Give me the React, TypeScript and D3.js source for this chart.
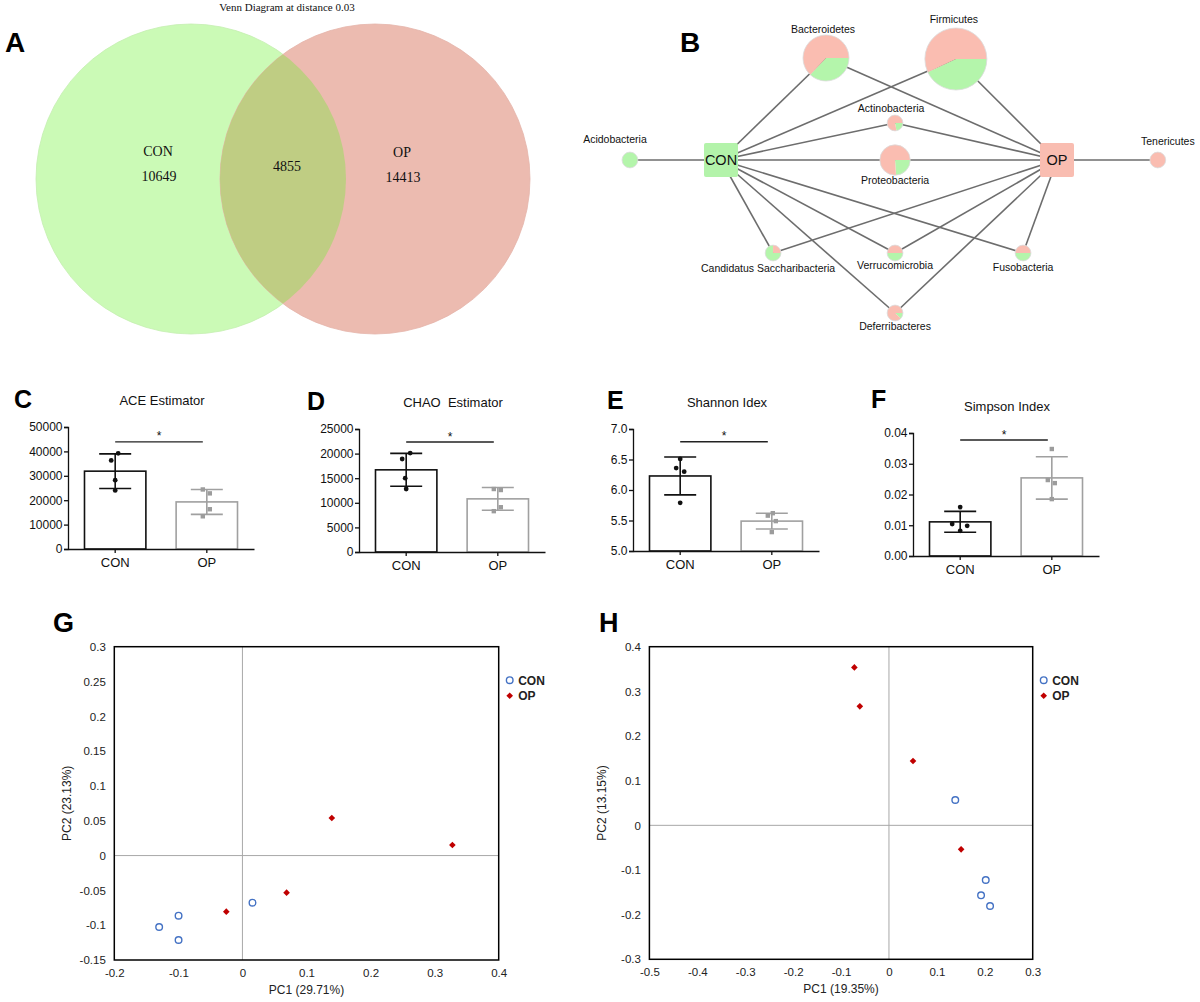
import React, { useEffect, useRef } from 'react';
import * as d3 from 'd3';

// ---------- A: Venn ----------
const vennTitle = 'Venn Diagram at distance 0.03';
const vennGroups = ['CON', 'OP'];
const vennOnly = [10649, 14413];
const vennShared = 4855;

// ---------- B: phylum network ----------
const phyla = [
  'Acidobacteria',
  'Bacteroidetes',
  'Firmicutes',
  'Actinobacteria',
  'Proteobacteria',
  'Tenericutes',
  'Candidatus Saccharibacteria',
  'Verrucomicrobia',
  'Fusobacteria',
  'Deferribacteres'
];
// relative node size (abundance) and share of CON in each pie
const phylaAbundance = [6.5, 55, 100, 6.5, 24, 6.5, 6.5, 6.5, 6.5, 6.5];
const phylaConShare = [1, 0.37, 0.43, 0.22, 0.24, 0, 0.75, 0.5, 0.5, 0.12];

// ---------- C-F: alpha diversity ----------
const groups = ['CON', 'OP'];

const aceMean = [31900, 19300];
const aceSd = [7100, 5100];
const aceCon = [39200, 36300, 28200, 24000];
const aceOp = [24400, 22800, 16300, 13400];
const aceTicks = [0, 10000, 20000, 30000, 40000, 50000];

const chaoMean = [16700, 10800];
const chaoSd = [3350, 2300];
const chaoCon = [20100, 18900, 15000, 12800];
const chaoOp = [12800, 12600, 9100, 8300];
const chaoTicks = [0, 5000, 10000, 15000, 20000, 25000];

const shannonMean = [6.23, 5.49];
const shannonSd = [0.31, 0.13];
const shannonCon = [6.51, 6.36, 6.3, 5.79];
const shannonOp = [5.62, 5.58, 5.49, 5.31];
const shannonTicks = [5.0, 5.5, 6.0, 6.5, 7.0];

const simpsonMean = [0.0111, 0.0254];
const simpsonSd = [0.0034, 0.0069];
const simpsonCon = [0.0159, 0.0104, 0.0098, 0.0082];
const simpsonOp = [0.0348, 0.0247, 0.0237, 0.0185];
const simpsonTicks = [0, 0.01, 0.02, 0.03, 0.04];

// ---------- G, H: PCoA ----------
const gConX = [-0.13, -0.0997, -0.0997, 0.0157];
const gConY = [-0.1026, -0.0863, -0.1213, -0.0677];
const gOpX = [-0.0252, 0.0689, 0.1395, 0.3277];
const gOpY = [-0.0806, -0.0533, 0.0539, 0.0152];
const gXTicks = [-0.2, -0.1, 0, 0.1, 0.2, 0.3, 0.4];
const gYTicks = [-0.15, -0.1, -0.05, 0, 0.05, 0.1, 0.15, 0.2, 0.25, 0.3];

const hConX = [0.1384, 0.202, 0.1922, 0.211];
const hConY = [0.0567, -0.1224, -0.1567, -0.1806];
const hOpX = [-0.0722, -0.0608, 0.0502, 0.1506];
const hOpY = [0.3537, 0.2664, 0.144, -0.0537];
const hXTicks = [-0.5, -0.4, -0.3, -0.2, -0.1, 0, 0.1, 0.2, 0.3];
const hYTicks = [-0.3, -0.2, -0.1, 0, 0.1, 0.2, 0.3, 0.4];

const SANS = '"Liberation Sans", Arial, sans-serif';
const SERIF = '"Liberation Serif", "Times New Roman", serif';
const GREEN = '#b4f5ab';
const PINK = '#fabdb1';

type Sel = d3.Selection<SVGSVGElement, unknown, null, undefined>;

const letter = (svg: Sel, t: string, x: number, y: number, size = 27) => {
  svg
    .append('text')
    .attr('x', x)
    .attr('y', y)
    .attr('font-family', SANS)
    .attr('font-weight', 'bold')
    .attr('font-size', size)
    .attr('fill', '#000')
    .text(t);
};

const drawVenn = (svg: Sel) => {
  const cx = d3.scaleOrdinal<string, number>().domain(vennGroups).range([191, 375]);
  const cy = 179;
  const r = 155;
  const fills = ['#cbfab6', '#ecbbb0'];

  svg
    .append('defs')
    .append('clipPath')
    .attr('id', 'venn-op')
    .append('circle')
    .attr('cx', cx('OP'))
    .attr('cy', cy)
    .attr('r', r);

  const g = svg.append('g');
  g.selectAll('circle.set')
    .data(vennGroups)
    .join('circle')
    .attr('class', 'set')
    .attr('cx', (d) => cx(d))
    .attr('cy', cy)
    .attr('r', r)
    .attr('fill', (_, i) => fills[i])
    .attr('stroke', (_, i) => (i === 0 ? '#c4efb0' : '#e4b4a9'))
    .attr('stroke-width', 0.8);
  g.append('circle')
    .attr('cx', cx('CON'))
    .attr('cy', cy)
    .attr('r', r)
    .attr('clip-path', 'url(#venn-op)')
    .attr('fill', '#bfcd83');

  const txt = (t: string, x: number, y: number, size = 14) =>
    g.append('text')
      .attr('x', x)
      .attr('y', y)
      .attr('text-anchor', 'middle')
      .attr('font-family', SERIF)
      .attr('font-size', size)
      .attr('fill', '#111')
      .text(t);

  txt(vennTitle, 287, 11, 11);
  txt(vennGroups[0], cx('CON') - 33, 156);
  txt(String(vennOnly[0]), cx('CON') - 32, 181);
  txt(String(vennShared), (cx('CON') + cx('OP')) / 2 + 4, 171);
  txt(vennGroups[1], cx('OP') + 27, 157);
  txt(String(vennOnly[1]), cx('OP') + 28, 182);

  letter(svg, 'A', 5, 52, 28);
};

// layout of the network (units: CON = 0, OP = 1 horizontally)
const netLayout: Record<string, { u: number; v: number; dx: number; dy: number }> = {
  Acidobacteria: { u: -0.271, v: 0, dx: -15, dy: -17 },
  Bacteroidetes: { u: 0.3125, v: -1.02, dx: -3, dy: -25 },
  Firmicutes: { u: 0.699, v: -1.01, dx: -2, dy: -36 },
  Actinobacteria: { u: 0.518, v: -0.37, dx: -4, dy: -11 },
  Proteobacteria: { u: 0.518, v: 0, dx: 0, dy: 24 },
  Tenericutes: { u: 1.3, v: 0, dx: 10, dy: -15 },
  'Candidatus Saccharibacteria': { u: 0.155, v: 0.93, dx: -5, dy: 19 },
  Verrucomicrobia: { u: 0.518, v: 0.93, dx: 0, dy: 16 },
  Fusobacteria: { u: 0.899, v: 0.93, dx: 0, dy: 18 },
  Deferribacteres: { u: 0.518, v: 1.53, dx: 0, dy: 17 }
};

const drawNetwork = (svg: Sel) => {
  const x = d3.scaleLinear().domain([0, 1]).range([721, 1057]);
  const y = d3.scaleLinear().domain([0, 1]).range([160, 260]);
  const rad = d3.scaleSqrt().domain([0, 100]).range([0, 31]);
  const hubs = [
    { name: 'CON', u: 0, fill: '#b3f3aa' },
    { name: 'OP', u: 1, fill: '#f9bdb1' }
  ];

  const nodes = phyla.map((name, i) => ({
    name,
    share: phylaConShare[i],
    r: rad(phylaAbundance[i]),
    x: x(netLayout[name].u),
    y: y(netLayout[name].v),
    dx: netLayout[name].dx,
    dy: netLayout[name].dy
  }));

  const links: { x1: number; y1: number; x2: number; y2: number }[] = [];
  nodes.forEach((n) => {
    if (n.share > 0) links.push({ x1: x(0), y1: y(0), x2: n.x, y2: n.y });
    if (n.share < 1) links.push({ x1: x(1), y1: y(0), x2: n.x, y2: n.y });
  });

  const g = svg.append('g');
  g.selectAll('line')
    .data(links)
    .join('line')
    .attr('x1', (d) => d.x1)
    .attr('y1', (d) => d.y1)
    .attr('x2', (d) => d.x2)
    .attr('y2', (d) => d.y2)
    .attr('stroke', '#6d6d6d')
    .attr('stroke-width', 1.6);

  const pie = d3
    .pie<number>()
    .sort(null)
    .startAngle(Math.PI / 2)
    .endAngle(Math.PI / 2 + 2 * Math.PI);

  const ng = g
    .selectAll('g.node')
    .data(nodes)
    .join('g')
    .attr('class', 'node')
    .attr('transform', (d) => `translate(${d.x},${d.y})`);

  ng.each(function (d) {
    const arc = d3.arc<d3.PieArcDatum<number>>().innerRadius(0).outerRadius(d.r);
    d3.select(this)
      .selectAll('path')
      .data(pie([d.share, 1 - d.share]))
      .join('path')
      .attr('d', arc)
      .attr('fill', (_, i) => (i === 0 ? GREEN : PINK));
    d3.select(this)
      .append('circle')
      .attr('r', d.r)
      .attr('fill', 'none')
      .attr('stroke', '#dcdcdc')
      .attr('stroke-width', 0.8);
    d3.select(this)
      .append('text')
      .attr('x', d.dx)
      .attr('y', d.dy)
      .attr('text-anchor', 'middle')
      .attr('font-family', SANS)
      .attr('font-size', 10.5)
      .attr('fill', '#111')
      .text(d.name);
  });

  const hg = g
    .selectAll('g.hub')
    .data(hubs)
    .join('g')
    .attr('class', 'hub')
    .attr('transform', (d) => `translate(${x(d.u)},${y(0)})`);
  hg.append('rect')
    .attr('x', -17)
    .attr('y', -17)
    .attr('width', 34)
    .attr('height', 34)
    .attr('rx', 2)
    .attr('fill', (d) => d.fill);
  hg.append('text')
    .attr('text-anchor', 'middle')
    .attr('dy', '0.36em')
    .attr('font-family', SANS)
    .attr('font-size', 14.5)
    .attr('fill', '#111')
    .text((d) => d.name);

  letter(svg, 'B', 680, 52, 28);
};

type BarPanel = {
  letter: string;
  title: string;
  mean: number[];
  sd: number[];
  points: number[][];
  domain: [number, number];
  ticks: number[];
  sig: number;
  format: (n: number) => string;
  axisX: number;
  top: number;
  bottom: number;
  letterX: number;
  letterY: number;
  jitter: number[][];
};

const drawBars = (svg: Sel, p: BarPanel) => {
  const x = d3
    .scaleBand()
    .domain(groups)
    .range([p.axisX, p.axisX + 186])
    .paddingInner(0.33)
    .paddingOuter(0.18);
  const y = d3.scaleLinear().domain(p.domain).range([p.bottom, p.top]);
  const colors = ['#111111', '#a0a0a0'];
  const mid = (i: number) => (x(groups[i]) ?? 0) + x.bandwidth() / 2;
  const g = svg.append('g');

  g.selectAll('rect.bar')
    .data(p.mean)
    .join('rect')
    .attr('class', 'bar')
    .attr('x', (_, i) => x(groups[i]) ?? 0)
    .attr('y', (d) => y(d))
    .attr('width', x.bandwidth())
    .attr('height', (d) => p.bottom - y(d))
    .attr('fill', '#fff')
    .attr('stroke', (_, i) => colors[i])
    .attr('stroke-width', 1.6);

  // error bars (mean +- SD)
  p.mean.forEach((m, i) => {
    const c = mid(i);
    const hi = y(m + p.sd[i]);
    const lo = y(m - p.sd[i]);
    const eg = g.append('g').attr('stroke', colors[i]).attr('stroke-width', 1.6);
    eg.append('line').attr('x1', c).attr('x2', c).attr('y1', hi).attr('y2', lo);
    eg.append('line').attr('x1', c - 16).attr('x2', c + 16).attr('y1', hi).attr('y2', hi);
    eg.append('line').attr('x1', c - 16).attr('x2', c + 16).attr('y1', lo).attr('y2', lo);
  });

  // individual samples
  g.selectAll('circle.pt')
    .data(p.points[0])
    .join('circle')
    .attr('class', 'pt')
    .attr('cx', (_, j) => mid(0) + p.jitter[0][j])
    .attr('cy', (d) => y(d))
    .attr('r', 2.4)
    .attr('fill', '#111');
  g.selectAll('rect.pt')
    .data(p.points[1])
    .join('rect')
    .attr('class', 'pt')
    .attr('x', (_, j) => mid(1) + p.jitter[1][j] - 2.2)
    .attr('y', (d) => y(d) - 2.2)
    .attr('width', 4.4)
    .attr('height', 4.4)
    .attr('fill', '#9c9c9c');

  const ya = g
    .append('g')
    .attr('transform', `translate(${p.axisX},0)`)
    .call(d3.axisLeft(y).tickValues(p.ticks).tickSize(4).tickPadding(1.5).tickFormat((d) => p.format(+d)));
  const xa = g
    .append('g')
    .attr('transform', `translate(0,${p.bottom})`)
    .call(d3.axisBottom(x).tickSize(4).tickSizeOuter(0).tickPadding(5));
  [ya, xa].forEach((a) => {
    a.attr('font-family', SANS);
    a.selectAll('path, line').attr('stroke', '#111').attr('stroke-width', 1.3);
    a.selectAll('text').attr('fill', '#111');
  });
  ya.selectAll('text').attr('font-size', 12);
  xa.selectAll('text').attr('font-size', 13);

  // significance
  const sy = y(p.sig);
  g.append('line')
    .attr('x1', mid(0))
    .attr('x2', mid(1) - 4)
    .attr('y1', sy)
    .attr('y2', sy)
    .attr('stroke', '#222')
    .attr('stroke-width', 1.4);
  g.append('text')
    .attr('x', (mid(0) + mid(1)) / 2 - 2)
    .attr('y', sy - 1.5)
    .attr('text-anchor', 'middle')
    .attr('font-family', SANS)
    .attr('font-size', 12)
    .attr('fill', '#111')
    .text('*');

  g.append('text')
    .attr('x', p.axisX + 94)
    .attr('y', p.top - 22)
    .attr('text-anchor', 'middle')
    .attr('font-family', SANS)
    .attr('font-size', 13)
    .attr('fill', '#111')
    .style('white-space', 'pre')
    .text(p.title);

  letter(svg, p.letter, p.letterX, p.letterY, 25);
};

type PcoaPanel = {
  letter: string;
  letterX: number;
  letterY: number;
  box: [number, number, number, number];
  xTicks: number[];
  yTicks: number[];
  xTitle: string;
  yTitle: string;
  con: [number[], number[]];
  op: [number[], number[]];
};

const drawPcoa = (svg: Sel, p: PcoaPanel) => {
  const [left, right, top, bottom] = p.box;
  const x = d3
    .scaleLinear()
    .domain([p.xTicks[0], p.xTicks[p.xTicks.length - 1]])
    .range([left, right]);
  const y = d3
    .scaleLinear()
    .domain([p.yTicks[0], p.yTicks[p.yTicks.length - 1]])
    .range([bottom, top]);
  const g = svg.append('g');

  g.append('line')
    .attr('x1', x(0))
    .attr('x2', x(0))
    .attr('y1', top)
    .attr('y2', bottom)
    .attr('stroke', '#a8a8a8')
    .attr('stroke-width', 1);
  g.append('line')
    .attr('x1', left)
    .attr('x2', right)
    .attr('y1', y(0))
    .attr('y2', y(0))
    .attr('stroke', '#a8a8a8')
    .attr('stroke-width', 1);
  g.append('rect')
    .attr('x', left)
    .attr('y', top)
    .attr('width', right - left)
    .attr('height', bottom - top)
    .attr('fill', 'none')
    .attr('stroke', '#000')
    .attr('stroke-width', 1.5);

  const fmt = (d: d3.NumberValue) => String(+(+d).toFixed(2));
  const ya = g
    .append('g')
    .attr('transform', `translate(${left},0)`)
    .call(d3.axisLeft(y).tickValues(p.yTicks).tickSize(0).tickPadding(8.5).tickFormat(fmt));
  const xa = g
    .append('g')
    .attr('transform', `translate(0,${bottom})`)
    .call(d3.axisBottom(x).tickValues(p.xTicks).tickSize(0).tickPadding(8.5).tickFormat(fmt));
  [ya, xa].forEach((a) => {
    a.select('.domain').remove();
    a.attr('font-family', SANS).attr('font-size', 11.5);
    a.selectAll('text').attr('fill', '#222');
  });

  const diamond = d3.symbol().type(d3.symbolSquare).size(22)();
  g.selectAll('circle.con')
    .data(p.con[0])
    .join('circle')
    .attr('class', 'con')
    .attr('cx', (d) => x(d))
    .attr('cy', (_, i) => y(p.con[1][i]))
    .attr('r', 3.3)
    .attr('fill', '#fff')
    .attr('stroke', '#4472c4')
    .attr('stroke-width', 1.4);
  g.selectAll('path.op')
    .data(p.op[0])
    .join('path')
    .attr('class', 'op')
    .attr('d', diamond)
    .attr('transform', (d, i) => `translate(${x(d)},${y(p.op[1][i])}) rotate(45)`)
    .attr('fill', '#c00000');

  // legend
  const lx = right + 11;
  const lg = g.append('g').attr('font-family', SANS).attr('font-size', 12).attr('font-weight', 'bold');
  lg.append('circle')
    .attr('cx', lx)
    .attr('cy', top + 33.5)
    .attr('r', 3.3)
    .attr('fill', '#fff')
    .attr('stroke', '#4472c4')
    .attr('stroke-width', 1.4);
  lg.append('path').attr('d', diamond).attr('transform', `translate(${lx},${top + 49}) rotate(45)`).attr('fill', '#c00000');
  lg.append('text').attr('x', lx + 8.5).attr('y', top + 33.5).attr('dy', '0.36em').attr('fill', '#222').text(groups[0]);
  lg.append('text').attr('x', lx + 8.5).attr('y', top + 49).attr('dy', '0.36em').attr('fill', '#222').text(groups[1]);

  g.append('text')
    .attr('x', (left + right) / 2)
    .attr('y', bottom + 34)
    .attr('text-anchor', 'middle')
    .attr('font-family', SANS)
    .attr('font-size', 12)
    .attr('fill', '#222')
    .text(p.xTitle);
  g.append('text')
    .attr('transform', `translate(${left - 43},${(top + bottom) / 2}) rotate(-90)`)
    .attr('text-anchor', 'middle')
    .attr('font-family', SANS)
    .attr('font-size', 12)
    .attr('fill', '#222')
    .text(p.yTitle);

  letter(svg, p.letter, p.letterX, p.letterY, 27);
};

const barPanels: BarPanel[] = [
  {
    letter: 'C', title: 'ACE Estimator', mean: aceMean, sd: aceSd, points: [aceCon, aceOp],
    domain: [0, 50000], ticks: aceTicks, sig: 43900, format: d3.format('d'),
    axisX: 68, top: 427, bottom: 549, letterX: 14, letterY: 408,
    jitter: [[3, -4, 0, 0], [-4, 3, 3, -4]]
  },
  {
    letter: 'D', title: 'CHAO  Estimator', mean: chaoMean, sd: chaoSd, points: [chaoCon, chaoOp],
    domain: [0, 25000], ticks: chaoTicks, sig: 22350, format: d3.format('d'),
    axisX: 359, top: 429, bottom: 552, letterX: 307, letterY: 410,
    jitter: [[4, -4, -1, 0], [-4, 3, 3, -4]]
  },
  {
    letter: 'E', title: 'Shannon Idex', mean: shannonMean, sd: shannonSd, points: [shannonCon, shannonOp],
    domain: [5, 7], ticks: shannonTicks, sig: 6.79, format: d3.format('.1f'),
    axisX: 633, top: 429, bottom: 551, letterX: 607, letterY: 409,
    jitter: [[0, -4, 4, 0], [1, -4, 4, 0]]
  },
  {
    letter: 'F', title: 'Simpson Index', mean: simpsonMean, sd: simpsonSd, points: [simpsonCon, simpsonOp],
    domain: [0, 0.04], ticks: simpsonTicks, sig: 0.0377, format: d3.format('.2f'),
    axisX: 913, top: 433, bottom: 556, letterX: 871, letterY: 408,
    jitter: [[0, -8, 7, 0], [0, -4, 3, 0]]
  }
];

const pcoaPanels: PcoaPanel[] = [
  {
    letter: 'G', letterX: 53, letterY: 632, box: [114.3, 498.7, 646.7, 960],
    xTicks: gXTicks, yTicks: gYTicks, xTitle: 'PC1 (29.71%)', yTitle: 'PC2 (23.13%)',
    con: [gConX, gConY], op: [gOpX, gOpY]
  },
  {
    letter: 'H', letterX: 599, letterY: 632, box: [649.4, 1032.7, 646.7, 959.3],
    xTicks: hXTicks, yTicks: hYTicks, xTitle: 'PC1 (19.35%)', yTitle: 'PC2 (13.15%)',
    con: [hConX, hConY], op: [hOpX, hOpY]
  }
];

export default function App() {
  const ref = useRef<SVGSVGElement>(null);

  useEffect(() => {
    const svg = d3.select(ref.current as SVGSVGElement) as Sel;
    svg.selectAll('*').remove();
    drawVenn(svg);
    drawNetwork(svg);
    barPanels.forEach((p) => drawBars(svg, p));
    pcoaPanels.forEach((p) => drawPcoa(svg, p));
  }, []);

  return (
    <svg
      ref={ref}
      width={1200}
      height={1002}
      style={{ position: 'absolute', left: 0, top: 0, background: '#fff' }}
    />
  );
}
